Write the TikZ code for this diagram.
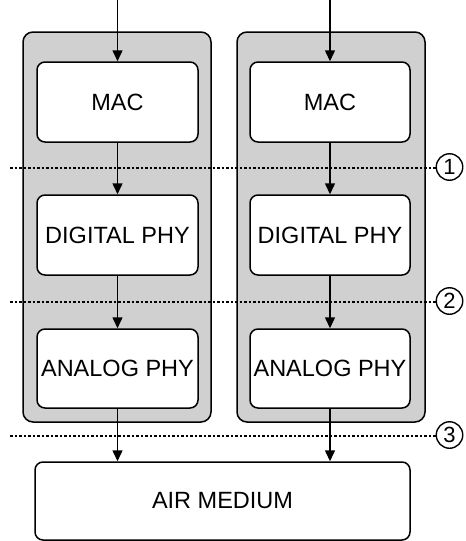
\documentclass[tikz,border=0pt]{standalone}
\usepackage{fontspec}
\setmainfont{Liberation Sans}
\usetikzlibrary{arrows.meta}
\definecolor{panelgray}{HTML}{D0D0D0}
\begin{document}
\begin{tikzpicture}[x=1pt,y=-1pt,
  panel/.style={draw=black,line width=1.5pt,fill=panelgray,rounded corners=10pt},
  layerbox/.style={draw=black,line width=1.5pt,fill=white,rounded corners=8pt,
    font=\fontsize{23.5}{26}\selectfont,inner sep=0pt},
  flow/.style={line width=1.5pt,-{Triangle[length=11pt,width=10pt]}},
  boundary/.style={line width=1.3pt,dash pattern=on 2.5pt off 2pt},
  marker/.style={circle,draw=black,line width=1.4pt,minimum size=26.5pt,inner sep=0pt,
    font=\fontsize{22}{24}\selectfont}]
\useasboundingbox (0,0) rectangle (466,541);

% stacks
\node[panel,minimum width=188pt,minimum height=390pt] (panelL) at (117,227) {};
\node[panel,minimum width=188pt,minimum height=390pt] (panelR) at (331,227) {};

\node[layerbox,minimum width=161pt,minimum height=80pt] (macL) at (117.5,102) {MAC};
\node[layerbox,minimum width=161pt,minimum height=80pt] (digL) at (117.5,235) {DIGITAL PHY};
\node[layerbox,minimum width=161pt,minimum height=79pt] (anaL) at (117.5,368.5) {ANALOG PHY};

\node[layerbox,minimum width=160pt,minimum height=80pt] (macR) at (330,102) {MAC};
\node[layerbox,minimum width=160pt,minimum height=80pt] (digR) at (330,235) {DIGITAL PHY};
\node[layerbox,minimum width=160pt,minimum height=79pt] (anaR) at (330,368.5) {ANALOG PHY};

\node[layerbox,minimum width=375pt,minimum height=78pt] (air) at (222.5,501) {AIR MEDIUM};

% interface markers
\node[marker] (m1) at (449.5,167) {1};
\node[marker] (m2) at (449.5,301) {2};
\node[marker] (m3) at (449.5,435) {3};
\coordinate (d1) at (10,168);
\coordinate (d2) at (10,302);
\coordinate (d3) at (10,436);
\draw[boundary] (d1) -- (d1 -| m1.west);
\draw[boundary] (d2) -- (d2 -| m2.west);
\draw[boundary] (d3) -- (d3 -| m3.west);

% data flow
\coordinate (inL) at (117.5,0);
\coordinate (inR) at (330,0);
\draw[flow] (inL) -- (macL.north);
\draw[flow] (inR) -- (macR.north);
\draw[flow] (macL) -- (digL);
\draw[flow] (macR) -- (digR);
\draw[flow] (digL) -- (anaL);
\draw[flow] (digR) -- (anaR);
\draw[flow] (anaL.south) -- (anaL.south |- air.north);
\draw[flow] (anaR.south) -- (anaR.south |- air.north);
\end{tikzpicture}
\end{document}
